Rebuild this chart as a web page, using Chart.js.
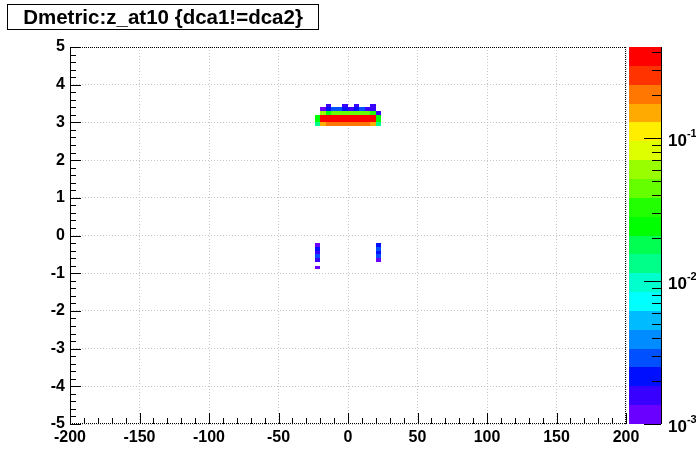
<!DOCTYPE html>
<html>
<head>
<meta charset="utf-8">
<script src="https://cdn.jsdelivr.net/npm/chart.js@4.4.1/dist/chart.umd.min.js"></script>
<style>
  html, body { margin: 0; padding: 0; background: #fff; overflow: hidden; }
</style>
</head>
<body>
<canvas id="c" width="696" height="472"></canvas>
<script>
// histogram title and binning
const titleText = 'Dmetric:z_at10 {dca1!=dca2}';
const binW = 4;
const binH = 0.1;

// filled cells: lower edges in x and y, bin content
const cellX = [
  -16, -4, 4, 16,
  -20, -16, -12, -8, -4, 0, 4, 8, 12, 16,
  -20, -16, -12, -8, -4, 0, 4, 8, 12, 16, 20,
  -24, -20, -16, -12, -8, -4, 0, 4, 8, 12, 16, 20,
  -24, -20, -16, -12, -8, -4, 0, 4, 8, 12, 16, 20,
  -24, -20, -16, -12, -8, -4, 0, 4, 8, 12, 16, 20,
  -24, -24, -24, -24, -24, -24,
  20, 20, 20, 20, 20
];
const cellY = [
  3.4, 3.4, 3.4, 3.4,
  3.3, 3.3, 3.3, 3.3, 3.3, 3.3, 3.3, 3.3, 3.3, 3.3,
  3.2, 3.2, 3.2, 3.2, 3.2, 3.2, 3.2, 3.2, 3.2, 3.2, 3.2,
  3.1, 3.1, 3.1, 3.1, 3.1, 3.1, 3.1, 3.1, 3.1, 3.1, 3.1, 3.1,
  3.0, 3.0, 3.0, 3.0, 3.0, 3.0, 3.0, 3.0, 3.0, 3.0, 3.0, 3.0,
  2.9, 2.9, 2.9, 2.9, 2.9, 2.9, 2.9, 2.9, 2.9, 2.9, 2.9, 2.9,
  -0.3, -0.4, -0.5, -0.6, -0.7, -0.9,
  -0.3, -0.4, -0.5, -0.6, -0.7
];
const cellZ = [
  0.0015, 0.0016, 0.0015, 0.0017,
  0.0012, 0.0021, 0.0028, 0.0027, 0.0022, 0.0016, 0.0023, 0.0026, 0.0017, 0.0015,
  0.060, 0.025, 0.044, 0.046, 0.043, 0.045, 0.047, 0.044, 0.042, 0.033, 0.0016,
  0.022, 0.37, 0.40, 0.41, 0.39, 0.42, 0.43, 0.40, 0.38, 0.39, 0.36, 0.022,
  0.021, 0.38, 0.39, 0.40, 0.41, 0.40, 0.42, 0.41, 0.39, 0.40, 0.37, 0.021,
  0.013, 0.15, 0.21, 0.20, 0.22, 0.20, 0.21, 0.20, 0.22, 0.19, 0.15, 0.013,
  0.0012, 0.0021, 0.0016, 0.0029, 0.0015, 0.0012,
  0.0022, 0.0030, 0.0020, 0.0028, 0.0012
];

// axes
const xTicks = [-200, -150, -100, -50, 0, 50, 100, 150, 200];
const yTicks = [-5, -4, -3, -2, -1, 0, 1, 2, 3, 4, 5];
const zMin = 0.001;
const zMax = 0.433;
const zExponents = [-3, -2, -1];

// 20 contour colours, low to high
const palette = [
  '#6a00ff', '#3800ff', '#0010ff', '#0050ff', '#008cff',
  '#00bbff', '#00ffff', '#00ffcc', '#00ff88', '#00ff50',
  '#00ff00', '#22ff00', '#66ff00', '#99ff00', '#ddff00',
  '#ffee00', '#ffaa00', '#ff7700', '#ff3300', '#ff0000'
];

const FONT = '"Liberation Sans", Arial, Helvetica, sans-serif';

function zColor(v) {
  const lo = Math.log10(zMin), hi = Math.log10(zMax);
  let i = Math.floor((Math.log10(v) - lo) / ((hi - lo) / palette.length));
  i = Math.max(0, Math.min(palette.length - 1, i));
  return palette[i];
}

// cells under the grid, like ROOT's colz
const cellsPlugin = {
  id: 'cells',
  beforeDraw(chart) {
    const ctx = chart.ctx;
    ctx.save();
    ctx.fillStyle = '#fff';
    ctx.fillRect(0, 0, chart.width, chart.height);
    ctx.restore();
  },
  beforeDatasetsDraw(chart) {
    const ctx = chart.ctx;
    const xs = chart.scales.x, ys = chart.scales.y;
    ctx.save();
    chart.data.datasets[0].data.forEach(p => {
      const x0 = Math.round(xs.getPixelForValue(p.x - binW / 2));
      const x1 = Math.round(xs.getPixelForValue(p.x + binW / 2));
      const y0 = Math.round(ys.getPixelForValue(p.y + binH / 2));
      const y1 = Math.round(ys.getPixelForValue(p.y - binH / 2));
      ctx.fillStyle = zColor(p.v);
      ctx.fillRect(x0, y0, x1 - x0, y1 - y0);
    });
    ctx.restore();
  },
  afterDraw(chart) {
    const ctx = chart.ctx;
    const a = chart.chartArea;
    const xs = chart.scales.x, ys = chart.scales.y;
    ctx.save();
    ctx.strokeStyle = '#000';
    ctx.lineWidth = 1;

    // frame
    ctx.setLineDash([1, 1]);
    ctx.beginPath();
    ctx.moveTo(a.left, a.top + 0.5); ctx.lineTo(a.right, a.top + 0.5);
    ctx.moveTo(a.right - 0.5, a.top); ctx.lineTo(a.right - 0.5, a.bottom);
    ctx.moveTo(a.left, a.bottom - 0.5); ctx.lineTo(a.right, a.bottom - 0.5);
    ctx.stroke();
    ctx.setLineDash([]);
    ctx.beginPath();
    ctx.moveTo(a.left + 0.5, a.top); ctx.lineTo(a.left + 0.5, a.bottom);
    ctx.stroke();

    // x ticks
    ctx.beginPath();
    for (let v = -200; v <= 200; v += 10) {
      const px = Math.round(xs.getPixelForValue(v)) + 0.5;
      const len = (v % 50 === 0) ? 11 : 6;
      ctx.moveTo(px, a.bottom); ctx.lineTo(px, a.bottom - len);
    }
    // y ticks
    for (let k = -25; k <= 25; k++) {
      const py = Math.round(ys.getPixelForValue(k / 5)) + 0.5;
      const len = (k % 5 === 0) ? 11 : 6;
      ctx.moveTo(a.left, py); ctx.lineTo(a.left + len, py);
    }
    ctx.stroke();

    // colour bar
    const bx0 = 629, bx1 = 661;
    const lo = Math.log10(zMin), hi = Math.log10(zMax);
    const zPix = v => a.bottom - (Math.log10(v) - lo) / (hi - lo) * (a.bottom - a.top);
    const n = palette.length;
    for (let i = 0; i < n; i++) {
      const yb = Math.round(a.bottom - i * (a.bottom - a.top) / n);
      const yt = Math.round(a.bottom - (i + 1) * (a.bottom - a.top) / n);
      ctx.fillStyle = palette[i];
      ctx.fillRect(bx0, yt, bx1 - bx0, yb - yt);
    }
    ctx.beginPath();
    ctx.moveTo(bx1 + 0.5, a.top); ctx.lineTo(bx1 + 0.5, a.bottom);
    for (let e = -3; e <= -1; e++) {
      for (let m = 1; m <= 9; m++) {
        const v = m * Math.pow(10, e);
        if (v < zMin || v > zMax) continue;
        const py = Math.round(zPix(v)) + 0.5;
        const len = m === 1 ? 17 : 9;
        ctx.moveTo(bx1, py); ctx.lineTo(bx1 - len, py);
      }
    }
    ctx.stroke();

    ctx.fillStyle = '#000';
    ctx.textBaseline = 'middle';
    ctx.textAlign = 'left';
    zExponents.forEach(e => {
      const py = zPix(Math.pow(10, e));
      ctx.font = 'bold 17px ' + FONT;
      ctx.fillText('10', 668, py + 3);
      const w = ctx.measureText('10').width;
      ctx.font = 'bold 11px ' + FONT;
      ctx.fillText(String(e), 668 + w, py - 4);
    });

    // title box
    ctx.fillStyle = '#fff';
    ctx.fillRect(7, 4, 312, 26);
    ctx.strokeRect(7.5, 4.5, 311, 25);
    ctx.fillStyle = '#000';
    ctx.font = 'bold 20.5px ' + FONT;
    ctx.textAlign = 'center';
    ctx.textBaseline = 'alphabetic';
    ctx.fillText(titleText, 163, 24);
    ctx.restore();
  }
};

const points = cellX.map((x, i) => ({ x: x + binW / 2, y: cellY[i] + binH / 2, v: cellZ[i] }));

new Chart(document.getElementById('c').getContext('2d'), {
  type: 'scatter',
  data: {
    datasets: [{
      label: titleText,
      data: points,
      pointRadius: 0,
      pointHoverRadius: 0
    }]
  },
  options: {
    responsive: false,
    animation: false,
    devicePixelRatio: 1,
    layout: { padding: { top: 47, right: 70, left: 0, bottom: 0 } },
    plugins: {
      legend: { display: false },
      tooltip: { enabled: false },
      title: { display: false }
    },
    scales: {
      x: {
        type: 'linear',
        min: -200,
        max: 200,
        z: 1,
        afterBuildTicks: s => { s.ticks = xTicks.map(v => ({ value: v })); },
        afterFit: s => { s.height = 48; },
        grid: { color: '#c4c4c4', drawTicks: false, lineWidth: 1 },
        border: { display: false, dash: [1, 2] },
        ticks: {
          color: '#000',
          font: { family: FONT, size: 16, weight: 'bold' },
          padding: 4,
          maxRotation: 0,
          autoSkip: false
        }
      },
      y: {
        type: 'linear',
        min: -5,
        max: 5,
        z: 1,
        afterBuildTicks: s => { s.ticks = yTicks.map(v => ({ value: v })); },
        afterFit: s => { s.width = 70; },
        grid: { color: '#c4c4c4', drawTicks: false, lineWidth: 1 },
        border: { display: false, dash: [1, 2] },
        ticks: {
          color: '#000',
          font: { family: FONT, size: 16, weight: 'bold' },
          padding: 5,
          autoSkip: false
        }
      }
    }
  },
  plugins: [cellsPlugin]
});
</script>
</body>
</html>
